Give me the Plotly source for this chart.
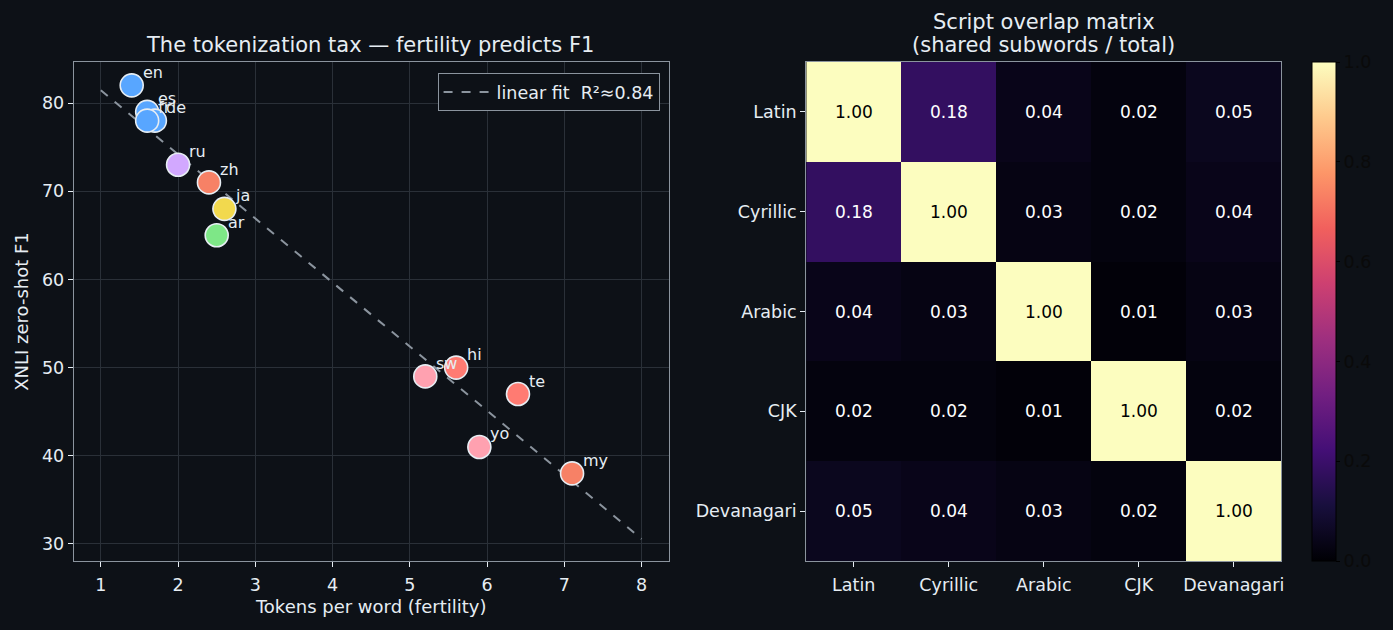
import numpy as np
import plotly.graph_objects as go

# ---- data ----
langs = ["en", "es", "de", "fr", "ru", "zh", "ja", "ar", "sw", "hi", "te", "yo", "my"]
fertility = [1.4, 1.6, 1.7, 1.6, 2.0, 2.4, 2.6, 2.5, 5.2, 5.6, 6.4, 5.9, 7.1]
xnli_f1 = [82, 79, 78, 78, 73, 71, 68, 65, 49, 50, 47, 41, 38]
point_colors = ["#58a6ff", "#58a6ff", "#58a6ff", "#58a6ff", "#d2a8ff", "#f78166",
                "#f2d94e", "#7ee787", "#ffa1b0", "#ff7b72", "#ff7b72", "#ffa1b0", "#f78166"]
label_order = ["en", "es", "fr", "de", "ru", "zh", "ja", "ar", "sw", "hi", "te", "yo", "my"]
fit_x_range = [1, 8]
r2_label = "0.84"

scripts = ["Latin", "Cyrillic", "Arabic", "CJK", "Devanagari"]
overlap = [
    [1.00, 0.18, 0.04, 0.02, 0.05],
    [0.18, 1.00, 0.03, 0.02, 0.04],
    [0.04, 0.03, 1.00, 0.01, 0.03],
    [0.02, 0.02, 0.01, 1.00, 0.02],
    [0.05, 0.04, 0.03, 0.02, 1.00],
]

BG = "#0d1117"
FG = "#e6edf3"
SPINE = "#8b949e"
GRID = "#2a3038"
FONT = "DejaVu Sans"
W, H = 1393, 630
TICK = 17.5
LABEL = 18
TITLE = 21

def px_x(p):
    return p / W

def px_y(p):
    return 1 - p / H

fig = go.Figure()

# linear fit
slope, icpt = np.polyfit(fertility, xnli_f1, 1)
fx = np.array(fit_x_range, dtype=float)
fig.add_trace(go.Scatter(
    x=fx, y=slope * fx + icpt, mode="lines",
    line=dict(color="#8b949e", width=2, dash="dash"),
    name=f"linear fit  R²≈{r2_label}", xaxis="x", yaxis="y", showlegend=True,
))

fig.add_trace(go.Scatter(
    x=fertility, y=xnli_f1, mode="markers",
    marker=dict(size=23, color=point_colors, line=dict(color="#e6edf3", width=1.6)),
    xaxis="x", yaxis="y", showlegend=False, hoverinfo="text", text=langs,
))

annotations = []
for lg in label_order:
    i = langs.index(lg)
    annotations.append(dict(
        x=fertility[i], y=xnli_f1[i], xref="x", yref="y", text=lg, showarrow=False,
        xanchor="left", yanchor="middle", xshift=9, yshift=13,
        font=dict(family=FONT, size=16, color=FG),
    ))

# heatmap
fig.add_trace(go.Heatmap(
    z=overlap, x=scripts, y=scripts, colorscale="Magma", zmin=0, zmax=1,
    xaxis="x2", yaxis="y2", showscale=True,
    colorbar=dict(
        x=px_x(1315), xanchor="left", xpad=0, ypad=0,
        y=px_y(62), yanchor="top", len=499, lenmode="pixels",
        thickness=24, thicknessmode="pixels",
        outlinecolor="#000000", outlinewidth=1,
        tickvals=[0, 0.2, 0.4, 0.6, 0.8, 1.0], tickformat=".1f",
        ticks="outside", ticklen=4, tickcolor="#000000",
        tickfont=dict(family=FONT, size=TICK, color="#0a0a0a"),
    ),
))

for r, row in enumerate(overlap):
    for c, v in enumerate(row):
        annotations.append(dict(
            x=scripts[c], y=scripts[r], xref="x2", yref="y2", text=f"{v:.2f}",
            showarrow=False, font=dict(family=FONT, size=17,
                                       color="#000000" if v > 0.5 else "#ffffff"),
        ))

# titles
annotations.append(dict(
    x=px_x(371), y=px_y(45), xref="paper", yref="paper",
    text="The tokenization tax — fertility predicts F1", showarrow=False,
    xanchor="center", yanchor="middle", font=dict(family=FONT, size=TITLE, color=FG),
))
annotations.append(dict(
    x=px_x(1046), y=px_y(22), xref="paper", yref="paper",
    text="Script overlap matrix", showarrow=False,
    xanchor="center", yanchor="middle", font=dict(family=FONT, size=TITLE, color=FG),
))
annotations.append(dict(
    x=px_x(1046), y=px_y(45), xref="paper", yref="paper",
    text="(shared subwords / total)", showarrow=False,
    xanchor="center", yanchor="middle", font=dict(family=FONT, size=TITLE, color=FG),
))

axis_common = dict(
    showline=True, linecolor=SPINE, linewidth=1.2, mirror=True,
    ticks="outside", ticklen=5, tickcolor=FG, tickwidth=1,
    tickfont=dict(family=FONT, size=TICK, color=FG), zeroline=False,
)

fig.update_layout(
    width=W, height=H, margin=dict(l=0, r=0, t=0, b=0),
    paper_bgcolor=BG, plot_bgcolor=BG,
    font=dict(family=FONT, color=FG),
    annotations=annotations,
    showlegend=True,
    legend=dict(
        x=px_x(661), xanchor="right", y=px_y(73), yanchor="top",
        bgcolor=BG, bordercolor=SPINE, borderwidth=1, itemwidth=48,
        font=dict(family=FONT, size=17.5, color=FG),
    ),
    xaxis=dict(
        domain=[px_x(74), px_x(670)], anchor="y",
        range=[0.651, 8.349], tickvals=[1, 2, 3, 4, 5, 6, 7, 8],
        showgrid=True, gridcolor=GRID, gridwidth=1, ticklabelstandoff=3,
        title=dict(text="Tokens per word (fertility)", standoff=6,
                   font=dict(family=FONT, size=LABEL, color=FG)),
        **axis_common,
    ),
    yaxis=dict(
        domain=[px_y(561), px_y(62)], anchor="x",
        range=[28.07, 84.65], tickvals=[30, 40, 50, 60, 70, 80],
        showgrid=True, gridcolor=GRID, gridwidth=1,
        title=dict(text="XNLI zero-shot F1", standoff=8,
                   font=dict(family=FONT, size=LABEL, color=FG)),
        **axis_common,
    ),
    xaxis2=dict(
        domain=[px_x(808), px_x(1284)], anchor="y2",
        showgrid=False, ticklabelstandoff=3, **axis_common,
    ),
    yaxis2=dict(
        domain=[px_y(561), px_y(62)], anchor="x2",
        autorange="reversed", showgrid=False, **axis_common,
    ),
)

fig.write_html("out.html")
